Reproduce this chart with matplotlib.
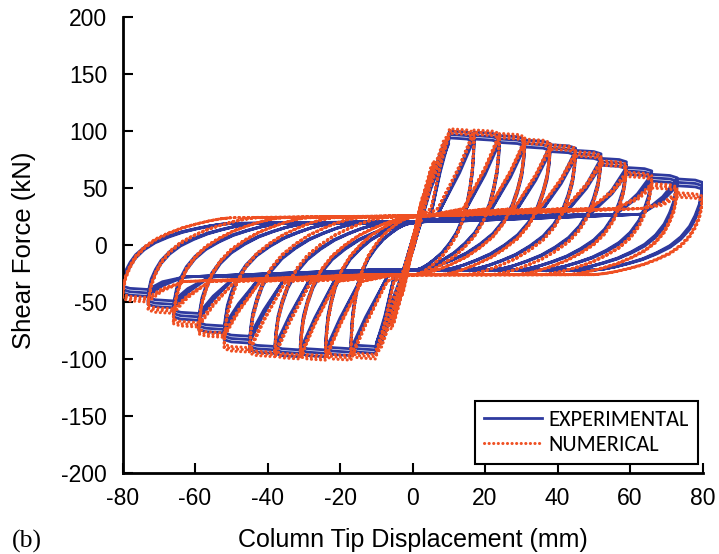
import numpy as np
import matplotlib
matplotlib.use("Agg")
import matplotlib.pyplot as plt

plt.rcParams["axes.unicode_minus"] = False

# ---------------- data ----------------
# displacement amplitude of each cycle (mm), same on both sides
amplitudes = [3, 6, 10, 17, 24, 31, 38, 45, 52, 59, 66, 73, 80]

# peak shear force of each cycle (kN)
exp_peak_pos = [40, 70, 95, 100, 99, 96, 92, 88, 83, 76, 68, 62, 58]
exp_peak_neg = [-42, -70, -92, -95, -97, -98, -98, -95, -86, -77, -66, -55, -45]
num_peak_pos = [44, 74, 98, 102, 101, 98, 93, 88, 82, 74, 64, 54, 46]
num_peak_neg = [-45, -74, -96, -100, -101, -101, -100, -98, -94, -81, -72, -60, -50]

# cycles up to this amplitude are still nearly elastic (no pinched band)
elastic_limit = 10

# force level of the pinched (sliding) bands, kN
exp_band = (19, -22)
num_band = (24, -26)

# force lost in each repeated cycle at the same amplitude, kN
exp_repeat_drop = 3
num_repeat_drop = 2

# unloading arc seen from the peak: (fraction of span, fraction of drop)
arc_shape = [(0, 0), (0.01, 0.12), (0.03, 0.25), (0.07, 0.38), (0.12, 0.5),
             (0.2, 0.62), (0.3, 0.72), (0.42, 0.8), (0.55, 0.87),
             (0.68, 0.92), (0.8, 0.96), (0.9, 0.985), (1, 1)]

# thin elastic loop: (fraction of amplitude, fraction of peak force)
elastic_up = [(-0.5, -0.55), (0.0, 0.06), (0.5, 0.6), (0.85, 0.93), (1.0, 1.0)]
elastic_down = [(0.5, 0.55), (0.0, -0.06), (-0.5, -0.6), (-0.85, -0.93), (-1.0, -1.0)]

BLUE = "#2E3A9F"
ORANGE = "#EF5023"


def elastic_points(A, fp, fn):
    d, f = [], []
    for u, v in elastic_up:
        d.append(u * A)
        f.append(v * (fp if v > 0 else -fn))
    for u, v in elastic_down:
        d.append(u * A)
        f.append(v * (fp if v > 0 else -fn))
    return d, f


def loop_points(A, fp, fn, band):
    """vertices of one full cycle, starting on the upper band near zero"""
    bu, bd = band
    s = min(30, 0.95 * A)
    d, f = [], []

    # push to positive peak
    d += [0.15 * A, A - 17 if A > 20 else 0.3 * A, max(A - 11, 0.45 * A),
          max(A - 7, 0.6 * A), A - 2, A]
    f += [bu + 2, bu + 8, bu + 0.6 * (fp - bu), fp, fp - 1, fp - 3]
    # unloading arc down to the lower band
    for u, v in arc_shape[1:]:
        d.append(A - u * s)
        f.append(fp - 3 + v * (bd - fp + 3))
    # along the lower band, then push to negative peak
    d += [min(A - s - 1, -0.15 * A), -(A - 17) if A > 20 else -0.3 * A,
          -max(A - 11, 0.45 * A), -max(A - 7, 0.6 * A), -A + 2, -A]
    f += [bd, bd - 6, bd + 0.6 * (fn - bd), fn, fn + 1, fn + 3]
    # unloading arc up to the upper band
    for u, v in arc_shape[1:]:
        d.append(-A + u * s)
        f.append(fn + 3 + v * (bu - fn - 3))
    return d, f


def build_path(peak_pos, peak_neg, band, drop):
    xs, ys = [0.0], [0.0]
    for A, fp, fn in zip(amplitudes, peak_pos, peak_neg):
        for rep in range(3):
            cut = drop * rep
            if A <= elastic_limit:
                d, f = elastic_points(A, fp - cut, fn + cut)
            else:
                d, f = loop_points(A, fp - cut, fn + cut, band)
            xs += d
            ys += f
    return np.array(xs), np.array(ys)


exp_x, exp_y = build_path(exp_peak_pos, exp_peak_neg, exp_band, exp_repeat_drop)
num_x, num_y = build_path(num_peak_pos, num_peak_neg, num_band, num_repeat_drop)

# ---------------- figure ----------------
fig = plt.figure(figsize=(7.19, 5.54), dpi=100)
ax = fig.add_axes([0.1704, 0.1462, 0.8067, 0.823])

ax.plot(exp_x, exp_y, color=BLUE, lw=2.0, label="EXPERIMENTAL", zorder=2)
ax.plot(num_x, num_y, color=ORANGE, lw=2.2, linestyle=(0, (0.05, 1.45)),
        dash_capstyle="round", label="NUMERICAL", zorder=3)

ax.set_xlim(-80, 80)
ax.set_ylim(-200, 200)
ax.set_xticks(np.arange(-80, 81, 20))
ax.set_yticks(np.arange(-200, 201, 50))

for side in ["top", "right"]:
    ax.spines[side].set_visible(False)
for side in ["left", "bottom"]:
    ax.spines[side].set_linewidth(2)

ax.tick_params(direction="in", length=7, width=1.5, labelsize=16.5)
ax.tick_params(axis="y", pad=11)
ax.tick_params(axis="x", pad=10)
for lab in ax.get_xticklabels() + ax.get_yticklabels():
    lab.set_fontfamily("Liberation Sans")

fig.text(413 / 719, 1 - 547 / 554, "Column Tip Displacement (mm)",
         ha="center", va="baseline", fontsize=18, family="Liberation Sans")
fig.text(24 / 719, 1 - 250 / 554, "Shear Force (kN)", rotation=90,
         ha="center", va="center", fontsize=18.5, family="Liberation Sans")
fig.text(12 / 719, 1 - 548 / 554, "(b)", ha="left", va="baseline",
         fontsize=18.5, family="Liberation Serif")

leg = ax.legend(loc="lower right", bbox_to_anchor=(0.9916, 0.02),
                borderaxespad=0, fancybox=False, edgecolor="black",
                handlelength=2.6, handletextpad=0.3, borderpad=0.4,
                labelspacing=0.22,
                prop={"family": ["Carlito", "Archivo Narrow", "Liberation Sans"],
                      "size": 16})
leg.get_frame().set_linewidth(1.5)
leg.get_frame().set_alpha(1)

fig.savefig("out.png", dpi=100)
